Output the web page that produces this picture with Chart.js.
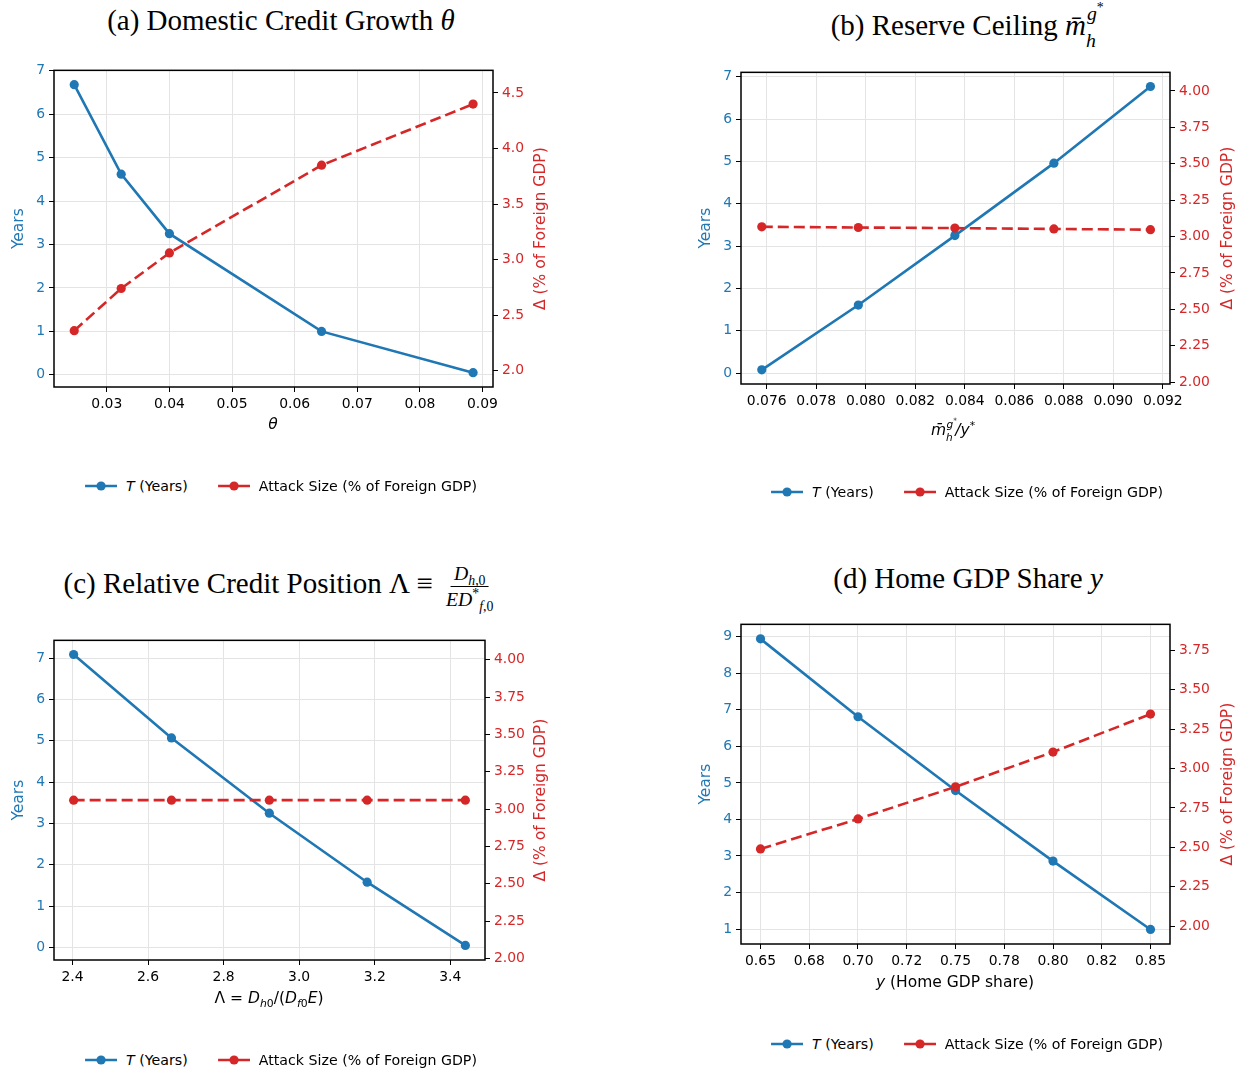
<!DOCTYPE html>
<html>
<head>
<meta charset="utf-8">
<script src="https://cdn.jsdelivr.net/npm/chart.js@4.4.1/dist/chart.umd.min.js"></script>
<style>
html, body { margin: 0; padding: 0; background: #fff; }
body { width: 1244px; height: 1070px; position: relative; overflow: hidden; font-family: "DejaVu Sans", sans-serif; color: #000; }
canvas { position: absolute; }
.title { position: absolute; transform: translateX(-50%); font-family: "Liberation Serif", serif; font-size: 29px; line-height: 30px; white-space: nowrap; }
.xlabel { position: absolute; transform: translate(-50%, -50%); font-size: 15.5px; line-height: 18px; white-space: nowrap; }
.legend { position: absolute; transform: translate(-50%, -50%); display: flex; align-items: center; gap: 30px; font-size: 14.2px; white-space: nowrap; }
.legend .item { display: flex; align-items: center; gap: 9px; }
.scr { display: inline-block; position: relative; width: 0.6em; height: 1px; vertical-align: baseline; }
.scr .up { position: absolute; left: 0.05em; bottom: 0.55em; font-size: 0.68em; line-height: 1; }
.scr .dn { position: absolute; left: 0; top: -0.15em; font-size: 0.68em; line-height: 1; }
.frac { display: inline-flex; flex-direction: column; align-items: center; vertical-align: middle; font-size: 0.68em; line-height: 1.15; margin-left: 3px; }
.frac .num { border-bottom: 1px solid #000; padding: 0 3px 1px; }
.frac .den { padding: 1px 3px 0; }
sub, sup { font-size: 0.7em; line-height: 0; }
</style>
</head>
<body>
<canvas id="chartA"></canvas>
<canvas id="chartB"></canvas>
<canvas id="chartC"></canvas>
<canvas id="chartD"></canvas>

<div class="title" style="left:281px; top:5px;">(a) Domestic Credit Growth <i>θ</i></div>
<div class="title" style="left:967px; top:10px;">(b) Reserve Ceiling <i>m̄</i><span class="scr"><span class="up"><i>g</i><sup>*</sup></span><span class="dn"><i>h</i></span></span></div>
<div class="title" style="left:280px; top:562px;">(c) Relative Credit Position Λ ≡ <span class="frac"><span class="num"><i>D</i><sub><i>h</i>,0</sub></span><span class="den"><i>ED</i><sup>*</sup><sub><i>f</i>,0</sub></span></span></div>
<div class="title" style="left:968px; top:563px;">(d) Home GDP Share <i>y</i></div>

<div class="xlabel" style="left:273px; top:424px;"><i>θ</i></div>
<div class="xlabel" style="left:953px; top:430px;"><i>m̄</i><span class="scr"><span class="up"><i>g</i><sup>*</sup></span><span class="dn"><i>h</i></span></span><i>/y</i><sup>*</sup></div>
<div class="xlabel" style="left:269px; top:998px;">Λ = <i>D</i><sub><i>h</i>0</sub>/(<i>D</i><sub><i>f</i>0</sub><i>E</i>)</div>
<div class="xlabel" style="left:955px; top:982px;"><i>y</i> (Home GDP share)</div>

<script>
const BLUE = '#1f77b4';
const RED = '#d62728';
const GRID = '#e4e4e4';

// (a) domestic credit growth theta
const thetaValues = [0.0248, 0.0323, 0.0400, 0.0643, 0.0885];
const thetaYears = [6.68, 4.62, 3.25, 1.00, 0.05];
const thetaAttack = [2.36, 2.74, 3.06, 3.85, 4.40];
const thetaTicks = [0.03, 0.04, 0.05, 0.06, 0.07, 0.08, 0.09];
const thetaTickLabels = ['0.03', '0.04', '0.05', '0.06', '0.07', '0.08', '0.09'];

// (b) reserve ceiling
const reserveValues = [0.0758, 0.0797, 0.0836, 0.0876, 0.0915];
const reserveYears = [0.08, 1.61, 3.25, 4.96, 6.77];
const reserveAttack = [3.067, 3.062, 3.058, 3.052, 3.047];
const reserveTicks = [0.076, 0.078, 0.080, 0.082, 0.084, 0.086, 0.088, 0.090, 0.092];
const reserveTickLabels = ['0.076', '0.078', '0.080', '0.082', '0.084', '0.086', '0.088', '0.090', '0.092'];

// (c) relative credit position lambda
const lambdaValues = [2.403, 2.662, 2.921, 3.180, 3.440];
const lambdaYears = [7.09, 5.07, 3.25, 1.58, 0.05];
const lambdaAttack = [3.06, 3.06, 3.06, 3.06, 3.06];
const lambdaTicks = [2.4, 2.6, 2.8, 3.0, 3.2, 3.4];
const lambdaTickLabels = ['2.4', '2.6', '2.8', '3.0', '3.2', '3.4'];

// (d) home GDP share y
const shareValues = [0.65, 0.70, 0.75, 0.80, 0.85];
const shareYears = [8.94, 6.81, 4.79, 2.86, 0.99];
const shareAttack = [2.49, 2.68, 2.884, 3.105, 3.346];
const shareTicks = [0.65, 0.675, 0.70, 0.725, 0.75, 0.775, 0.80, 0.825, 0.85];
const shareTickLabels = ['0.65', '0.68', '0.70', '0.72', '0.75', '0.78', '0.80', '0.82', '0.85'];

// left / right axis ticks
const yearTicks07 = [0, 1, 2, 3, 4, 5, 6, 7];
const yearTicks19 = [1, 2, 3, 4, 5, 6, 7, 8, 9];
const attackTicksA = [2.0, 2.5, 3.0, 3.5, 4.0, 4.5];
const attackTicksA_labels = ['2.0', '2.5', '3.0', '3.5', '4.0', '4.5'];
const attackTicksBC = [2.00, 2.25, 2.50, 2.75, 3.00, 3.25, 3.50, 3.75, 4.00];
const attackTicksBC_labels = ['2.00', '2.25', '2.50', '2.75', '3.00', '3.25', '3.50', '3.75', '4.00'];
const attackTicksD = [2.00, 2.25, 2.50, 2.75, 3.00, 3.25, 3.50, 3.75];
const attackTicksD_labels = ['2.00', '2.25', '2.50', '2.75', '3.00', '3.25', '3.50', '3.75'];

const legendYears = 'T (Years)';
const legendAttack = 'Attack Size (% of Foreign GDP)';

// frame around plot area + rotated y axis titles (right one reads upward like matplotlib)
const frameTitles = {
    id: 'frameTitles',
    afterDraw(chart, args, o) {
        const ctx = chart.ctx;
        const a = chart.chartArea;
        ctx.save();
        ctx.strokeStyle = '#000';
        ctx.lineWidth = 1.5;
        ctx.strokeRect(a.left, a.top, a.right - a.left, a.bottom - a.top);
        ctx.font = '15.5px "DejaVu Sans"';
        ctx.textAlign = 'center';
        ctx.textBaseline = 'middle';
        const midY = (a.top + a.bottom) / 2;
        ctx.save();
        ctx.fillStyle = BLUE;
        ctx.translate(a.left - o.leftGap, midY);
        ctx.rotate(-Math.PI / 2);
        ctx.fillText('Years', 0, 0);
        ctx.restore();
        ctx.fillStyle = RED;
        ctx.translate(a.right + o.rightGap, midY);
        ctx.rotate(-Math.PI / 2);
        ctx.fillText('Δ (% of Foreign GDP)', 0, 0);
        ctx.restore();
    }
};

function tickFont() {
    return { family: 'DejaVu Sans', size: 13.9 };
}

function makeChart(p) {
    const canvas = document.getElementById(p.id);
    const padL = 60, padR = 90, padT = 12, padB = 40;
    const leftW = 45, rightW = 55, xH = 30;
    canvas.width = p.R - p.L + padL + padR;
    canvas.height = p.B - p.T + padT + padB;
    canvas.style.left = (p.L - padL) + 'px';
    canvas.style.top = (p.T - padT) + 'px';

    const pts = (ys) => p.xs.map((x, i) => ({ x: x, y: ys[i] }));

    new Chart(canvas.getContext('2d'), {
        type: 'line',
        data: {
            datasets: [{
                label: legendAttack,
                data: pts(p.attack),
                yAxisID: 'yR',
                borderColor: RED,
                backgroundColor: RED,
                pointBackgroundColor: RED,
                borderWidth: 2.6,
                borderDash: [11, 5],
                pointRadius: 4.6,
                pointHoverRadius: 4.6,
                pointBorderWidth: 0,
                tension: 0
            }, {
                label: legendYears,
                data: pts(p.years),
                yAxisID: 'yL',
                borderColor: BLUE,
                backgroundColor: BLUE,
                pointBackgroundColor: BLUE,
                borderWidth: 2.6,
                pointRadius: 4.6,
                pointHoverRadius: 4.6,
                pointBorderWidth: 0,
                tension: 0
            }]
        },
        options: {
            responsive: false,
            animation: false,
            layout: { padding: { left: padL - leftW, right: padR - rightW, top: padT, bottom: padB - xH } },
            scales: {
                x: {
                    type: 'linear',
                    position: 'bottom',
                    min: p.xMin,
                    max: p.xMax,
                    afterFit: (s) => { s.height = xH; },
                    afterBuildTicks: (s) => { s.ticks = p.xTicks.map(v => ({ value: v })); },
                    ticks: { callback: (v, i) => p.xLabels[i], color: '#000', font: tickFont(), padding: 4, maxRotation: 0, autoSkip: false },
                    grid: { color: GRID, lineWidth: 1, tickColor: '#000', tickLength: 5 },
                    border: { display: false }
                },
                yL: {
                    type: 'linear',
                    position: 'left',
                    min: p.yMin,
                    max: p.yMax,
                    afterFit: (s) => { s.width = leftW; },
                    afterBuildTicks: (s) => { s.ticks = p.yTicks.map(v => ({ value: v })); },
                    ticks: { callback: (v) => String(v), color: BLUE, font: tickFont(), padding: 4, autoSkip: false },
                    grid: { color: GRID, lineWidth: 1, tickColor: '#000', tickLength: 5 },
                    border: { display: false }
                },
                yR: {
                    type: 'linear',
                    position: 'right',
                    min: p.rMin,
                    max: p.rMax,
                    afterFit: (s) => { s.width = rightW; },
                    afterBuildTicks: (s) => { s.ticks = p.rTicks.map(v => ({ value: v })); },
                    ticks: { callback: (v, i) => p.rLabels[i], color: RED, font: tickFont(), padding: 4, autoSkip: false },
                    grid: { drawOnChartArea: false, tickColor: '#000', tickLength: 5 },
                    border: { display: false }
                }
            },
            plugins: {
                legend: { display: false },
                tooltip: { enabled: false },
                frameTitles: { leftGap: p.leftGap, rightGap: p.rightGap }
            }
        },
        plugins: [frameTitles]
    });
}

function makeLegend(cx, cy) {
    const div = document.createElement('div');
    div.className = 'legend';
    div.style.left = cx + 'px';
    div.style.top = cy + 'px';
    div.innerHTML =
        '<span class="item"><svg width="32" height="12"><line x1="0" y1="6" x2="32" y2="6" stroke="' + BLUE + '" stroke-width="2.6"/>' +
        '<circle cx="16" cy="6" r="4.6" fill="' + BLUE + '"/></svg><span><i>T</i> (Years)</span></span>' +
        '<span class="item"><svg width="32" height="12"><line x1="0" y1="6" x2="32" y2="6" stroke="' + RED + '" stroke-width="2.6"/>' +
        '<circle cx="16" cy="6" r="4.6" fill="' + RED + '"/></svg><span>' + legendAttack + '</span></span>';
    document.body.appendChild(div);
}

makeChart({ id: 'chartA', L: 54, T: 70, R: 493, B: 387,
    xs: thetaValues, years: thetaYears, attack: thetaAttack,
    xMin: 0.02157, xMax: 0.09168, yMin: -0.28, yMax: 7.01, rMin: 1.853, rMax: 4.704,
    xTicks: thetaTicks, xLabels: thetaTickLabels, yTicks: yearTicks07,
    rTicks: attackTicksA, rLabels: attackTicksA_labels, leftGap: 35, rightGap: 48 });

makeChart({ id: 'chartB', L: 741, T: 72, R: 1170, B: 384,
    xs: reserveValues, years: reserveYears, attack: reserveAttack,
    xMin: 0.07496, xMax: 0.09229, yMin: -0.254, yMax: 7.104, rMin: 1.987, rMax: 4.128,
    xTicks: reserveTicks, xLabels: reserveTickLabels, yTicks: yearTicks07,
    rTicks: attackTicksBC, rLabels: attackTicksBC_labels, leftGap: 35, rightGap: 58 });

makeChart({ id: 'chartC', L: 54, T: 640, R: 485, B: 960,
    xs: lambdaValues, years: lambdaYears, attack: lambdaAttack,
    xMin: 2.351, xMax: 3.492, yMin: -0.302, yMax: 7.432, rMin: 1.989, rMax: 4.131,
    xTicks: lambdaTicks, xLabels: lambdaTickLabels, yTicks: yearTicks07,
    rTicks: attackTicksBC, rLabels: attackTicksBC_labels, leftGap: 35, rightGap: 56 });

makeChart({ id: 'chartD', L: 741, T: 624, R: 1170, B: 944,
    xs: shareValues, years: shareYears, attack: shareAttack,
    xMin: 0.64, xMax: 0.86, yMin: 0.5925, yMax: 9.3375, rMin: 1.886, rMax: 3.916,
    xTicks: shareTicks, xLabels: shareTickLabels, yTicks: yearTicks19,
    rTicks: attackTicksD, rLabels: attackTicksD_labels, leftGap: 35, rightGap: 58 });

makeLegend(281, 486);
makeLegend(967, 492);
makeLegend(281, 1060);
makeLegend(967, 1044);
</script>
</body>
</html>
